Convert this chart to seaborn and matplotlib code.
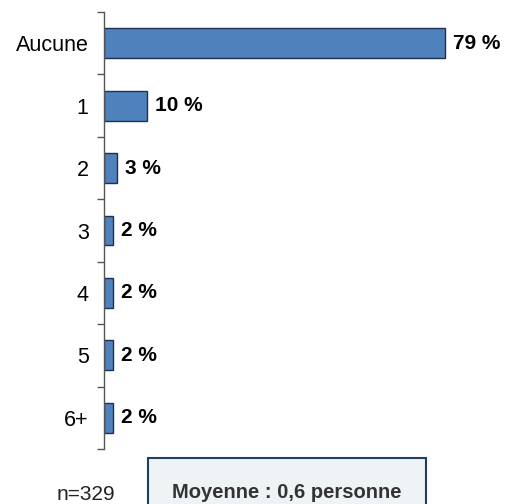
import pandas as pd
import matplotlib
matplotlib.use("Agg")
import matplotlib.pyplot as plt
import seaborn as sns
from matplotlib.patches import Rectangle
from matplotlib.ticker import FixedLocator

# Data
categories = ["Aucune", "1", "2", "3", "4", "5", "6+"]
values = [79, 10, 3, 2, 2, 2, 2]
sample_note = "n=329"
mean_note = "Moyenne : 0,6 personne"

df = pd.DataFrame({"cat": categories, "pct": values})

sns.set_style("white")
plt.rcParams["font.family"] = ["Liberation Sans", "DejaVu Sans"]

fig = plt.figure(figsize=(5.07, 5.04), dpi=100)
ax = fig.add_axes([104 / 507, 1 - 449 / 504, 390 / 507, 437 / 504])

sns.barplot(data=df, x="pct", y="cat", order=categories, orient="h",
            color="#4F81BD", edgecolor="#1F3050", linewidth=1.0,
            width=0.48, saturation=1, ax=ax)

ax.set_xlim(0, 90.3)
ax.set_ylim(6.5, -0.5)

for i, v in enumerate(values):
    ax.text(v + 1.9, i, f"{v} %", va="center", ha="left",
            fontsize=15, fontweight="bold", color="black")

for s in ["top", "right", "bottom"]:
    ax.spines[s].set_visible(False)
ax.spines["left"].set_color("#555555")
ax.spines["left"].set_linewidth(1.0)

ax.set_xticks([])
ax.set_xlabel("")
ax.set_ylabel("")
ax.tick_params(axis="y", which="major", left=False, length=0, pad=11,
               labelsize=15.5, labelcolor="black")
ax.yaxis.set_minor_locator(FixedLocator([i - 0.5 for i in range(len(categories) + 1)]))
ax.tick_params(axis="y", which="minor", left=True, length=5, width=1,
               color="#555555", direction="out")

# bottom notes
fig.text(86 / 507, 1 - 494 / 504, sample_note, ha="center", va="center",
         fontsize=15, color="#222222")
box = Rectangle((148 / 507, -0.05), 278 / 507, 0.05 + (1 - 458 / 504),
                transform=fig.transFigure, facecolor="#EEF3F6",
                edgecolor="#1F3F5F", linewidth=1.5, clip_on=False)
fig.patches.append(box)
fig.text(287 / 507, 1 - 493 / 504, mean_note, ha="center", va="center",
         fontsize=14.5, fontweight="bold", color="#333333")

plt.savefig("out.png", dpi=100)
